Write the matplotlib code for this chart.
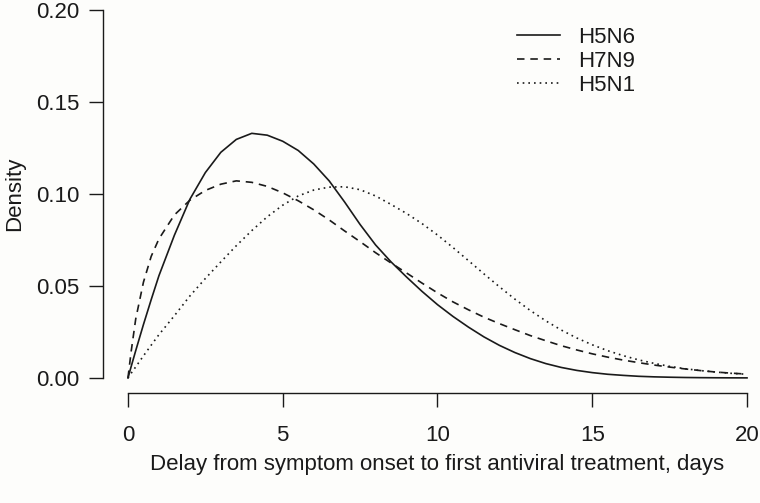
import matplotlib
matplotlib.use("Agg")
import matplotlib.pyplot as plt

# delay (days) and density values
days = [0, 0.1, 0.25, 0.5, 0.75, 1, 1.5, 2, 2.5, 3, 3.5, 4, 4.5, 5, 5.5, 6, 6.5,
        7, 7.5, 8, 8.5, 9, 9.5, 10, 10.5, 11, 11.5, 12, 12.5, 13, 13.5, 14, 14.5,
        15, 15.5, 16, 16.5, 17, 17.5, 18, 18.5, 19, 19.5, 20]

h5n6 = [0, 0.006, 0.0148, 0.029, 0.0425, 0.0555, 0.0775, 0.097, 0.1115, 0.1225,
        0.1295, 0.1328, 0.1318, 0.1285, 0.1235, 0.1162, 0.107, 0.0955, 0.0833,
        0.0722, 0.063, 0.0548, 0.047, 0.0398, 0.0334, 0.0276, 0.0223, 0.0177,
        0.0138, 0.0105, 0.0078, 0.0057, 0.0041, 0.0029, 0.002, 0.0014, 0.0009,
        0.0006, 0.0004, 0.00025, 0.00016, 0.0001, 0.00006, 0.00004]

h7n9 = [0, 0.014, 0.032, 0.052, 0.066, 0.0755, 0.0885, 0.0965, 0.1018, 0.1052,
        0.107, 0.1062, 0.104, 0.1005, 0.0962, 0.0913, 0.0858, 0.0798, 0.074,
        0.068, 0.0624, 0.057, 0.0515, 0.0462, 0.0413, 0.037, 0.033, 0.0295,
        0.0262, 0.023, 0.0202, 0.0175, 0.0152, 0.0131, 0.0113, 0.0097, 0.0083,
        0.007, 0.0059, 0.0049, 0.004, 0.0032, 0.0026, 0.0021]

h5n1 = [0, 0.0025, 0.006, 0.012, 0.0178, 0.0235, 0.0338, 0.0445, 0.054, 0.063,
        0.0718, 0.08, 0.0875, 0.0938, 0.0988, 0.102, 0.1036, 0.1038, 0.1022,
        0.0988, 0.0942, 0.0893, 0.0838, 0.0776, 0.0708, 0.0637, 0.0565, 0.0495,
        0.0428, 0.0366, 0.031, 0.026, 0.0217, 0.018, 0.0148, 0.0121, 0.0098,
        0.0079, 0.0063, 0.005, 0.004, 0.0032, 0.0025, 0.002]

x_ticks = [0, 5, 10, 15, 20]
y_ticks = [0.00, 0.05, 0.10, 0.15, 0.20]


def main() -> None:
    plt.rcParams["font.family"] = ["Liberation Sans", "DejaVu Sans"]
    bg = "#fdfdfb"
    ink = "#1a1a1a"
    fs = 16
    fig = plt.figure(figsize=(7.6, 5.03), dpi=100, facecolor=bg)
    ax = fig.add_axes([0.1358, 0.2193, 0.8797, 0.791])
    ax.set_facecolor(bg)

    lw = 1.2
    ax.plot(days, h5n6, color=ink, lw=lw, label="H5N6")
    ax.plot(days, h7n9, color=ink, lw=lw, dashes=(4.5, 3.5), label="H7N9")
    ax.plot(days, h5n1, color=ink, lw=lw, dashes=(1, 2.4), label="H5N1")

    ax.set_xlim(-0.8, 20.8)
    ax.set_ylim(-0.008, 0.208)

    for side in ("top", "right"):
        ax.spines[side].set_visible(False)
    ax.spines["left"].set_bounds(0, 0.2)
    ax.spines["bottom"].set_bounds(0, 20)
    for side in ("left", "bottom"):
        ax.spines[side].set_linewidth(1.0)
        ax.spines[side].set_color(ink)

    ax.set_xticks(x_ticks)
    ax.set_xticklabels([str(t) for t in x_ticks])
    ax.set_yticks(y_ticks)
    ax.set_yticklabels([f"{t:.2f}" for t in y_ticks])
    ax.tick_params(axis="both", direction="out", length=10, width=1.0,
                   color=ink, labelcolor=ink, labelsize=fs)
    ax.tick_params(axis="x", pad=13)
    ax.tick_params(axis="y", pad=7)

    ax.set_xlabel("Delay from symptom onset to first antiviral treatment, days",
                  fontsize=fs, labelpad=6, color=ink)
    ax.set_ylabel("Density", fontsize=fs, labelpad=8, color=ink)

    leg = ax.legend(loc="upper left", bbox_to_anchor=(506 / 760, 1 - 16 / 503),
                    bbox_transform=fig.transFigure, frameon=False, fontsize=fs,
                    handlelength=1.95, handletextpad=0.8, labelspacing=0.13,
                    borderpad=0)
    for text in leg.get_texts():
        text.set_color(ink)
    for line in leg.get_lines():
        line.set_linewidth(lw)

    fig.savefig("out.png", dpi=100, facecolor=bg)
    plt.close(fig)


if __name__ == "__main__":
    main()
